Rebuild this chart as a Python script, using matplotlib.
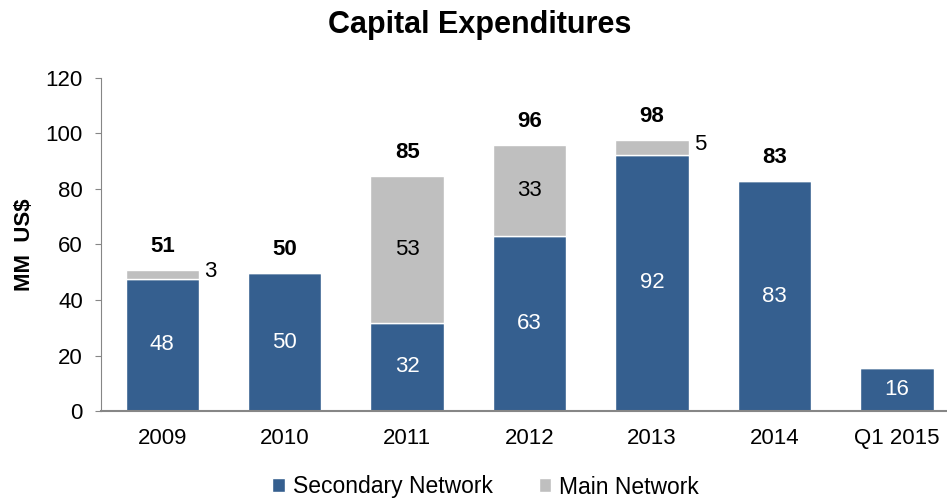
import numpy as np
import matplotlib
matplotlib.use("Agg")
import matplotlib.pyplot as plt

plt.rcParams["font.family"] = ["Liberation Sans", "DejaVu Sans"]

# Capital expenditures by year, MM US$
categories = ["2009", "2010", "2011", "2012", "2013", "2014", "Q1 2015"]
secondary = [47.7, 49.6, 31.8, 63.0, 92.4, 82.8, 15.6]
main_net = [3.1, 0.0, 52.9, 32.7, 5.2, 0.0, 0.0]
show_total = [True, True, True, True, True, True, False]

BLUE = "#355F8F"
GRAY = "#BFBFBF"
FS = 16

fig = plt.figure(figsize=(9.47, 5.0), dpi=100)
ax = fig.add_axes([0.1067, 0.178, 0.905, 0.666])

x = np.arange(len(categories))
width = 0.6
sec = np.array(secondary)
mn = np.array(main_net)

b1 = ax.bar(x, sec, width, color=BLUE, edgecolor="white", linewidth=1.0,
            label="Secondary Network")
b2 = ax.bar(x, mn, width, bottom=sec, color=GRAY, edgecolor="white",
            linewidth=1.0, label="Main Network")

# secondary labels inside the blue segment
for xi, v in zip(x, sec):
    ax.text(xi, v / 2, f"{v:.0f}", ha="center", va="center",
            color="white", fontsize=FS)

# main network labels: inside when tall, beside the bar when thin
for xi, s, m in zip(x, sec, mn):
    if m <= 0:
        continue
    if m > 10:
        ax.text(xi, s + m / 2, f"{m:.0f}", ha="center", va="center",
                color="black", fontsize=FS)
    else:
        ax.annotate(f"{m:.0f}", (xi + width / 2, s + m / 2),
                    xytext=(4, 2), textcoords="offset points",
                    ha="left", va="center", fontsize=FS)

# bold totals above each bar
for xi, s, m, show in zip(x, sec, mn, show_total):
    if not show:
        continue
    ax.annotate(f"{s + m:.0f}", (xi, s + m), xytext=(0, 17),
                textcoords="offset points", ha="center", va="center",
                fontsize=FS, fontweight="bold")

ax.set_xlim(-0.5, len(categories) - 0.5)
ax.set_ylim(0, 120)
ax.set_yticks(np.arange(0, 121, 20))
ax.set_xticks(x)
ax.set_xticklabels(categories)

for side in ("top", "right"):
    ax.spines[side].set_visible(False)
ax.spines["left"].set_color("#868686")
ax.spines["bottom"].set_color("#868686")
ax.spines["bottom"].set_linewidth(1.5)
ax.tick_params(axis="y", length=4, color="#868686", labelsize=FS, pad=9)
ax.tick_params(axis="x", length=0, labelsize=FS, pad=12)

ax.set_ylabel("MM  US$", fontsize=FS, fontweight="bold", labelpad=8)

fig.text(0.507, 0.95, "Capital Expenditures", ha="center", va="center",
         fontsize=22, fontweight="bold")

fig.legend(handles=[b1, b2], loc="center", bbox_to_anchor=(0.513, 0.026),
           ncol=2, frameon=False, fontsize=16.5, handlelength=0.55,
           handleheight=0.55, handletextpad=0.35, columnspacing=2.0)

fig.savefig("out.png", dpi=100)
